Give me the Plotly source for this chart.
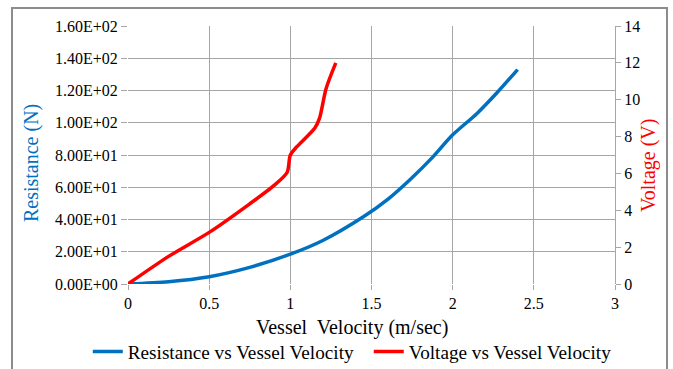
import plotly.graph_objects as go

# Data
res_velocity = [0, 0.25, 0.5, 0.75, 1.0, 1.2, 1.45, 1.6, 1.74, 1.88, 2.0, 2.15, 2.27, 2.4]
resistance = [0, 1.4, 4.5, 10.3, 18.5, 27, 41.7, 52.5, 65, 79, 92.5, 105.8, 118.3, 133]

volt_velocity = [0, 0.25, 0.5, 0.75, 0.9, 0.98, 1.0, 1.04, 1.15, 1.18, 1.22, 1.28]
voltage = [0, 1.5, 2.8, 4.35, 5.35, 6.05, 7.0, 7.45, 8.45, 9.0, 10.6, 12.0]

x_ticks = [0, 0.5, 1, 1.5, 2, 2.5, 3]
x_tick_text = ["0", "0.5", "1", "1.5", "2", "2.5", "3"]
left_ticks = [0, 20, 40, 60, 80, 100, 120, 140, 160]
left_tick_text = ["0.00E+00", "2.00E+01", "4.00E+01", "6.00E+01", "8.00E+01",
                  "1.00E+02", "1.20E+02", "1.40E+02", "1.60E+02"]
right_ticks = [0, 2, 4, 6, 8, 10, 12, 14]

BLUE = "#0070C0"
RED = "#FF0000"
GRID = "#a6a6a6"
FONT = "Liberation Serif"

fig = go.Figure()
fig.add_trace(go.Scatter(
    x=res_velocity, y=resistance, mode="lines",
    name="Resistance vs Vessel Velocity",
    line=dict(color=BLUE, width=3.5, shape="spline", smoothing=0.8),
    yaxis="y",
))
fig.add_trace(go.Scatter(
    x=volt_velocity, y=voltage, mode="lines",
    name="Voltage vs Vessel Velocity",
    line=dict(color=RED, width=3.5, shape="spline", smoothing=0.75),
    yaxis="y2",
))

fig.update_layout(
    width=673, height=369,
    margin=dict(l=128, r=58, t=26, b=85, autoexpand=False),
    paper_bgcolor="white", plot_bgcolor="white",
    font=dict(family=FONT, size=16, color="black"),
    showlegend=True,
    legend=dict(orientation="h", x=-0.0826, xanchor="left", y=-0.262, yanchor="middle",
                entrywidth=236, entrywidthmode="pixels",
                font=dict(family=FONT, size=19.2, color="black"),
                bgcolor="rgba(0,0,0,0)"),
    xaxis=dict(range=[0, 3], tickvals=x_ticks, ticktext=x_tick_text,
               showgrid=True, gridcolor=GRID, gridwidth=1, zeroline=False,
               showline=False, ticks="outside", ticklen=5, tickcolor=GRID,
               tickfont=dict(family=FONT, size=16, color="black")),
    yaxis=dict(range=[0, 160], tickvals=left_ticks, ticktext=left_tick_text,
               showgrid=True, gridcolor=GRID, gridwidth=1, zeroline=False,
               showline=False, ticks="outside", ticklen=6, tickcolor=GRID,
               tickfont=dict(family=FONT, size=16, color="black")),
    yaxis2=dict(range=[0, 14], tickvals=right_ticks, overlaying="y", side="right",
                showgrid=False, zeroline=False, showline=True, linecolor=GRID,
                ticks="outside", ticklen=5, tickcolor=GRID,
                tickfont=dict(family=FONT, size=16, color="black")),
    annotations=[
        dict(text="Vessel\u00a0 Velocity (m/sec)", xref="paper", yref="paper",
             x=0.46, y=-0.1667, xanchor="center", yanchor="middle", showarrow=False,
             font=dict(family=FONT, size=20, color="black")),
        dict(text="Resistance (N)", xref="paper", yref="paper",
             x=-0.197, y=0.469, xanchor="center", yanchor="middle", showarrow=False,
             textangle=-90, font=dict(family=FONT, size=20, color=BLUE)),
        dict(text="Voltage (V)", xref="paper", yref="paper",
             x=1.0678, y=0.461, xanchor="center", yanchor="middle", showarrow=False,
             textangle=-90, font=dict(family=FONT, size=20, color=RED)),
    ],
    shapes=[
        dict(type="rect", xref="paper", yref="paper",
             x0=-0.2382, x1=1.1068, y0=-0.36, y1=1.0698,
             line=dict(color="#8c8c8c", width=2), fillcolor="rgba(0,0,0,0)", layer="below"),
    ],
)

fig.write_html("out.html")
